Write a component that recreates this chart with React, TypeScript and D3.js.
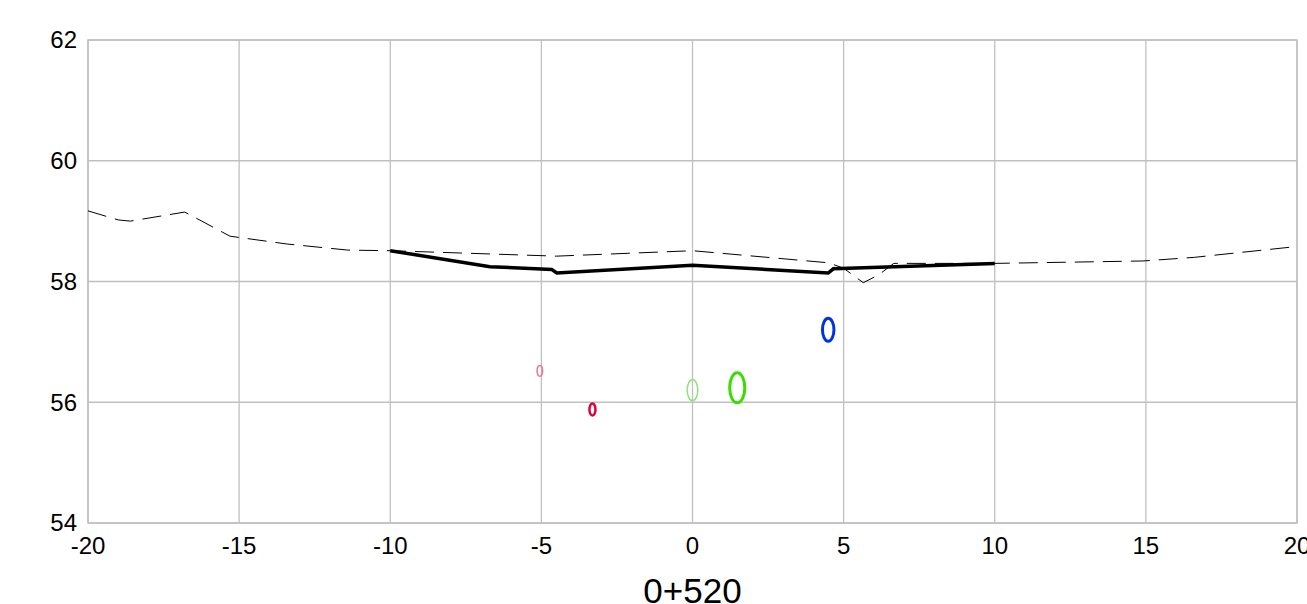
import React from "react";
import * as d3 from "d3";

const xTicks = [-20, -15, -10, -5, 0, 5, 10, 15, 20];
const yTicks = [54, 56, 58, 60, 62];
const chartTitle = "0+520";

// Existing ground (dashed)
const groundX = [-20, -19.0, -18.6, -16.8, -15.3, -13.4, -11.4, -10, -4.5, 0, 4.5, 5.0, 5.65, 6.16, 6.66, 10, 14.9, 16.6, 20];
const groundY = [59.17, 59.02, 59.0, 59.15, 58.75, 58.62, 58.52, 58.51, 58.42, 58.51, 58.31, 58.22, 57.98, 58.11, 58.3, 58.3, 58.34, 58.4, 58.58];

// Design surface (thick black)
const designX = [-10, -6.7, -4.66, -4.49, 0, 4.49, 4.66, 10];
const designY = [58.51, 58.245, 58.2, 58.14, 58.27, 58.14, 58.21, 58.3];

// Pipes (centre x, centre elevation, diameter in metres)
const pipeNames = ["pink", "red", "lightgreen", "green", "blue"];
const pipeX = [-5.05, -3.31, 0.0, 1.48, 4.49];
const pipeY = [56.52, 55.88, 56.2, 56.24, 57.2];
const pipeD = [0.18, 0.2, 0.35, 0.5, 0.38];

const pipeStyle: Record<string, { color: string; width: number }> = {
  pink: { color: "#e8788e", width: 1.5 },
  red: { color: "#e0003a", width: 2.5 },
  lightgreen: { color: "#8ee47a", width: 1.5 },
  green: { color: "#3ddc00", width: 3 },
  blue: { color: "#0033e0", width: 3 },
};

export default function App() {
  const W = 1307;
  const H = 604;
  const left = 88, right = 1297, top = 40, bottom = 523;
  const x = d3.scaleLinear().domain([-20, 20]).range([left, right]);
  const y = d3.scaleLinear().domain([54, 62]).range([bottom, top]);
  const font = "'Liberation Sans', Arial, sans-serif";

  const line = d3
    .line<number>()
    .x((d) => d)
    .y((d) => d);

  const groundPts: [number, number][] = groundX.map((v, i) => [x(v), y(groundY[i])]);
  const designPts: [number, number][] = designX.map((v, i) => [x(v), y(designY[i])]);
  const lineGen = d3.line();

  return (
    <svg
      width={W}
      height={H}
      style={{ position: "absolute", left: 0, top: 0, background: "#fff" }}
    >
      <rect x={0} y={0} width={W} height={H} fill="#fff" />
      {xTicks.map((t) => (
        <line key={"gx" + t} x1={x(t)} x2={x(t)} y1={top} y2={bottom} stroke="#c0c0c0" strokeWidth={1.3} />
      ))}
      {yTicks.map((t) => (
        <line key={"gy" + t} x1={left} x2={right} y1={y(t)} y2={y(t)} stroke="#c0c0c0" strokeWidth={1.3} />
      ))}
      <rect x={left} y={top} width={right - left} height={bottom - top} fill="none" stroke="#c0c0c0" strokeWidth={1.5} />

      <path d={lineGen(groundPts) || ""} fill="none" stroke="#000" strokeWidth={1} strokeDasharray="19,9" />
      <path d={lineGen(designPts) || ""} fill="none" stroke="#000" strokeWidth={3.5} strokeLinejoin="miter" />

      {pipeNames.map((n, i) => {
        const r = pipeD[i] / 2;
        return (
          <ellipse
            key={n}
            cx={x(pipeX[i])}
            cy={y(pipeY[i])}
            rx={x(r) - x(0)}
            ry={y(0) - y(r)}
            fill="none"
            stroke={pipeStyle[n].color}
            strokeWidth={pipeStyle[n].width}
          />
        );
      })}

      {yTicks.map((t) => (
        <text key={"ly" + t} x={77} y={y(t)} dy="0.35em" textAnchor="end" fontFamily={font} fontSize={24} fill="#000">
          {t}
        </text>
      ))}
      {xTicks.map((t) => (
        <text key={"lx" + t} x={x(t)} y={554} textAnchor="middle" fontFamily={font} fontSize={24} fill="#000">
          {t}
        </text>
      ))}
      <text x={x(0)} y={603} textAnchor="middle" fontFamily={font} fontSize={35} fill="#000">
        {chartTitle}
      </text>
    </svg>
  );
}
